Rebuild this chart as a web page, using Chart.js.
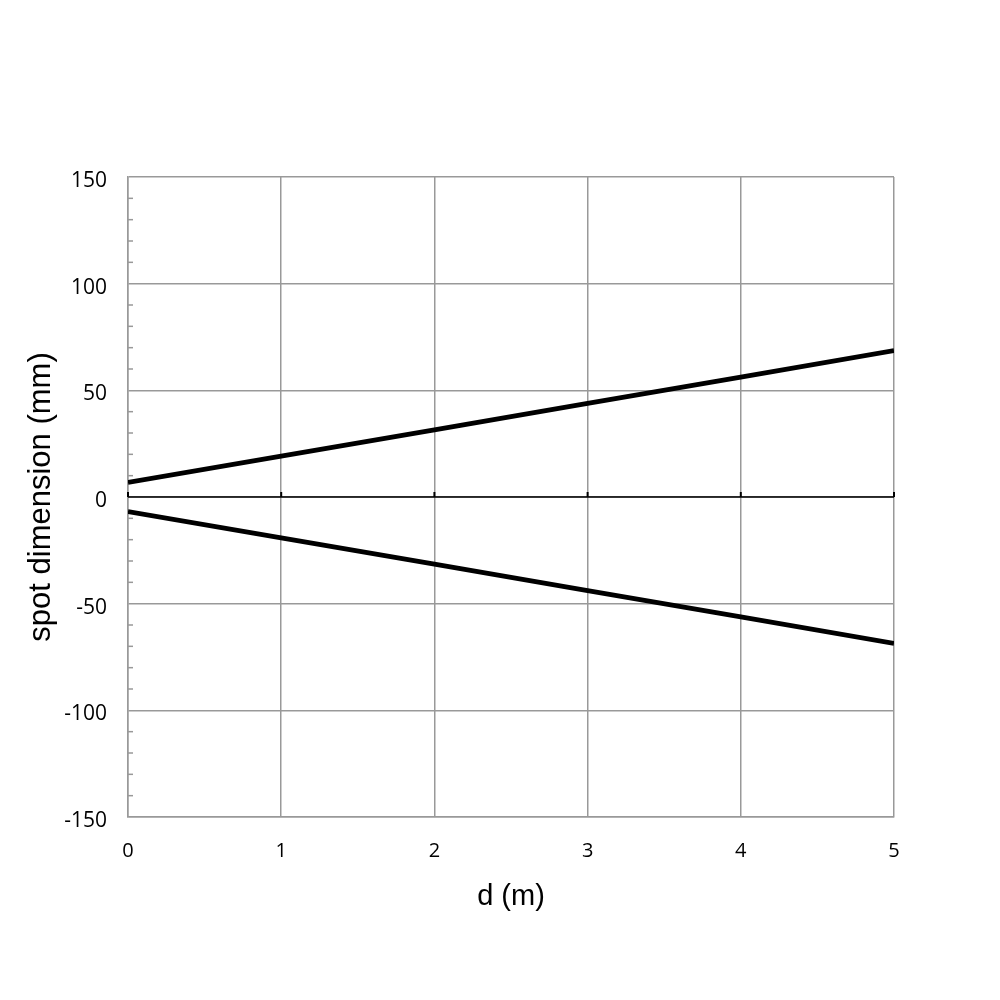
<!DOCTYPE html>
<html>
<head>
<meta charset="utf-8">
<script src="https://cdn.jsdelivr.net/npm/chart.js@4.4.1/dist/chart.umd.min.js"></script>
<style>
html,body{margin:0;padding:0;background:#fff;}
#wrap{width:1000px;height:1000px;}
</style>
</head>
<body>
<div id="wrap"><canvas id="c" width="1000" height="1000"></canvas></div>
<script>
const distances = [0, 1, 2, 3, 4, 5];
const upperEdge = [6.8, 19.2, 31.5, 43.9, 56.2, 68.6];
const lowerEdge = [-6.8, -19.2, -31.5, -43.9, -56.2, -68.6];
const xTicks = [0, 1, 2, 3, 4, 5];
const yMajorTicks = [-150, -100, -50, 0, 50, 100, 150];
const yMinorStep = 10;

const toPts = (xs, ys) => xs.map((x, i) => ({x: x, y: ys[i]}));

const extras = {
  id: 'extras',
  afterDatasetsDraw(chart) {
    const {ctx, scales: {x, y}, chartArea: a} = chart;
    ctx.save();
    ctx.strokeStyle = '#999';
    ctx.lineWidth = 1.5;
    for (let v = -150; v <= 150; v += yMinorStep) {
      if (v % 50 === 0) continue;
      const py = y.getPixelForValue(v);
      ctx.beginPath();
      ctx.moveTo(a.left, py);
      ctx.lineTo(a.left + 5, py);
      ctx.stroke();
    }
    const y0 = y.getPixelForValue(0);
    ctx.strokeStyle = '#000';
    ctx.lineWidth = 1.5;
    ctx.beginPath();
    ctx.moveTo(a.left, y0);
    ctx.lineTo(a.right, y0);
    ctx.stroke();
    ctx.lineWidth = 2;
    xTicks.forEach(t => {
      const px = x.getPixelForValue(t);
      ctx.beginPath();
      ctx.moveTo(px, y0);
      ctx.lineTo(px, y0 - 5);
      ctx.stroke();
    });
    ctx.restore();
  }
};

new Chart(document.getElementById('c'), {
  type: 'line',
  data: {
    datasets: [
      {data: toPts(distances, upperEdge), borderColor: '#000', borderWidth: 4.8, pointRadius: 0, fill: false, tension: 0},
      {data: toPts(distances, lowerEdge), borderColor: '#000', borderWidth: 4.8, pointRadius: 0, fill: false, tension: 0}
    ]
  },
  options: {
    responsive: false,
    animation: false,
    devicePixelRatio: 1,
    layout: {padding: {top: 177, right: 106, bottom: 0, left: 0}},
    plugins: {legend: {display: false}, tooltip: {enabled: false}},
    scales: {
      x: {
        type: 'linear',
        min: 0, max: 5,
        afterBuildTicks: s => { s.ticks = xTicks.map(v => ({value: v})); },
        afterFit: s => { s.height = 183; },
        grid: {color: '#999', lineWidth: 1.5, drawTicks: false},
        border: {color: '#999', width: 1.5},
        ticks: {padding: 22, color: '#000', font: {family: 'Open Sans', size: 20}, maxRotation: 0, autoSkip: false},
        title: {display: true, text: 'd (m)', color: '#000', font: {family: 'Liberation Sans', size: 29}, padding: {top: 0, bottom: 86}}
      },
      y: {
        type: 'linear',
        min: -150, max: 150,
        afterBuildTicks: s => { s.ticks = yMajorTicks.map(v => ({value: v})); },
        afterFit: s => { s.width = 128; },
        grid: {color: '#999', lineWidth: 1.5, drawTicks: false},
        border: {color: '#999', width: 1.5},
        ticks: {padding: 21, labelOffset: 4, color: '#000', font: {family: 'Open Sans', size: 21}},
        title: {display: true, text: 'spot dimension (mm)', color: '#000', font: {family: 'Liberation Sans', size: 31}, padding: {top: 23, bottom: 0}}
      }
    }
  },
  plugins: [extras]
});
</script>
</body>
</html>
